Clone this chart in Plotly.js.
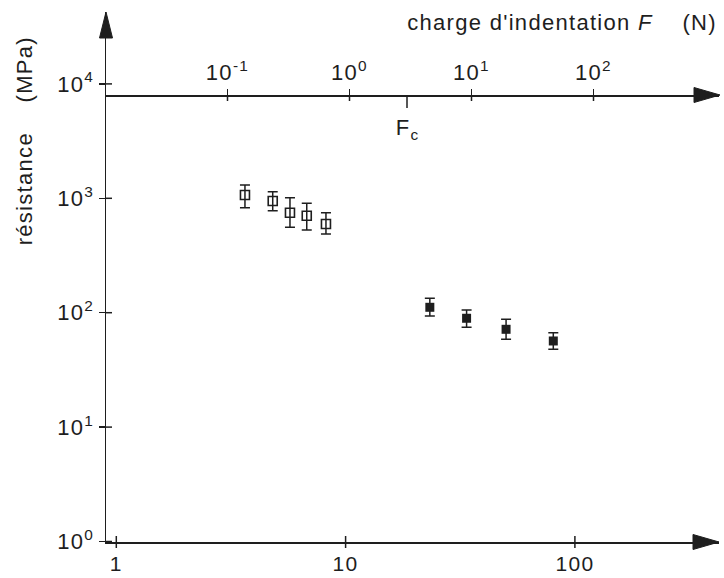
<!DOCTYPE html>
<html>
<head>
<meta charset="utf-8">
<script src="https://cdn.plot.ly/plotly-3.0.1.min.js"></script>
<style>
  html, body { margin: 0; padding: 0; background: #fff; }
  .main-svg text { letter-spacing: 1.3px; }
</style>
</head>
<body>
<div id="chart" style="width:724px;height:578px;"></div>
<script>
// ---- data ----
var openX      = [3.64, 4.81, 5.72, 6.77, 8.21];
var openY      = [1069, 947, 748, 704, 596];
var openHi     = [1307, 1142, 1012, 904, 748];
var openLo     = [828, 779, 558, 528, 488];

var filledX    = [23.3, 33.7, 50.1, 80.5];
var filledY    = [111.5, 89.4, 71.6, 56.6];
var filledHi   = [133.6, 105.6, 87.6, 66.9];
var filledLo   = [93.6, 74.5, 58.5, 47.9];

var bottomTicks = [1, 10, 100];
var bottomText  = ['1', '10', '100'];
var leftTicks   = [1, 10, 100, 1000, 10000];
var leftText    = ['10<sup>0</sup>', '10<sup>1</sup>', '10<sup>2</sup>', '10<sup>3</sup>', '10<sup>4</sup>'];
var topTicks    = [0.1, 1, 10, 100];
var topText     = ['10<sup>-1</sup>', '10<sup>0</sup>', '10<sup>1</sup>', '10<sup>2</sup>'];
var Fc = 2.96;

// ---- geometry ----
var W = 724, H = 578;
var M = {l: 106, r: 5, t: 12, b: 36};
var PW = W - M.l - M.r, PH = H - M.t - M.b;
function px(x) { return (x - M.l) / PW; }
function py(y) { return (H - M.b - y) / PH; }

var ink = '#1e1e1e';
var FONT = 'Liberation Sans, Arial, Helvetica, sans-serif';
var fs = 22;

function plus(v, hi) { return hi.map(function (h, i) { return h - v[i]; }); }
function minus(v, lo) { return lo.map(function (l, i) { return v[i] - l; }); }

var traces = [
  {
    x: openX, y: openY, type: 'scatter', mode: 'markers', xaxis: 'x', yaxis: 'y',
    marker: {symbol: 'square-open', size: 9, color: ink, line: {width: 1.6, color: ink}},
    error_y: {type: 'data', symmetric: false, array: plus(openY, openHi), arrayminus: minus(openY, openLo),
              thickness: 1.5, width: 5, color: ink},
    hoverinfo: 'skip', showlegend: false
  },
  {
    x: filledX, y: filledY, type: 'scatter', mode: 'markers', xaxis: 'x', yaxis: 'y',
    marker: {symbol: 'square', size: 9, color: ink},
    error_y: {type: 'data', symmetric: false, array: plus(filledY, filledHi), arrayminus: minus(filledY, filledLo),
              thickness: 1.5, width: 5, color: ink},
    hoverinfo: 'skip', showlegend: false
  },
  {
    x: [Fc], y: [1000], type: 'scatter', mode: 'markers', xaxis: 'x2', yaxis: 'y',
    marker: {size: 1, opacity: 0}, hoverinfo: 'skip', showlegend: false
  }
];

var shapes = [];
// bottom ticks (cross the axis line)
bottomTicks.forEach(function (v) {
  shapes.push({type: 'line', xref: 'x', x0: v, x1: v, yref: 'paper', ysizemode: 'pixel', yanchor: 0,
               y0: -6, y1: 6, line: {color: ink, width: 1.5}});
});
// inner halves of left ticks
leftTicks.forEach(function (v) {
  shapes.push({type: 'line', yref: 'y', y0: v, y1: v, xref: 'paper', xsizemode: 'pixel', xanchor: 0,
               x0: 0, x1: 6, line: {color: ink, width: 1.5}});
});
var topPos = py(95);
topTicks.forEach(function (v) {
  shapes.push({type: 'line', xref: 'x2', x0: v, x1: v, yref: 'paper', ysizemode: 'pixel', yanchor: topPos,
               y0: 0, y1: -6, line: {color: ink, width: 1.5}});
});
// Fc tick (below the top axis only)
shapes.push({type: 'line', xref: 'x2', x0: Fc, x1: Fc, yref: 'paper', ysizemode: 'pixel', yanchor: topPos,
             y0: 0, y1: -13, line: {color: ink, width: 1.5}});
// arrow heads
function tri(pts) {
  return 'M' + pts.map(function (p) { return px(p[0]) + ',' + py(p[1]); }).join(' L') + ' Z';
}
shapes.push({type: 'path', xref: 'paper', yref: 'paper', path: tri([[719, 542], [693, 534.5], [693, 549.5]]),
             fillcolor: ink, line: {color: ink, width: 1}});
shapes.push({type: 'path', xref: 'paper', yref: 'paper', path: tri([[720, 95], [694, 87.5], [694, 102.5]]),
             fillcolor: ink, line: {color: ink, width: 1}});
shapes.push({type: 'path', xref: 'paper', yref: 'paper', path: tri([[106, 12], [99.5, 38], [112.5, 38]]),
             fillcolor: ink, line: {color: ink, width: 1}});

var axisCommon = {
  type: 'log', showgrid: false, zeroline: false, showline: true, linecolor: ink, linewidth: 1.5,
  ticks: 'outside', ticklen: 6, tickwidth: 1.5, tickcolor: ink, tickmode: 'array',
  tickfont: {family: FONT, size: fs, color: ink}, fixedrange: true
};

var layout = {
  width: W, height: H, margin: M,
  paper_bgcolor: '#fff', plot_bgcolor: '#fff',
  font: {family: FONT, size: fs, color: ink},
  showlegend: false,
  xaxis: Object.assign({}, axisCommon, {
    range: [(106 - 116.3) / 229.3, (719 - 116.3) / 229.3],
    tickvals: bottomTicks, ticktext: bottomText,
    ticks: '', ticklabelstandoff: 2,
    tickfont: {family: FONT, size: 21, color: ink}
  }),
  yaxis: Object.assign({}, axisCommon, {
    range: [(541.5 - 542) / 114.4, (541.5 - 12) / 114.4],
    tickvals: leftTicks, ticktext: leftText
  }),
  xaxis2: Object.assign({}, axisCommon, {
    range: [(106 - 349.5) / 122, (719 - 349.5) / 122],
    overlaying: 'x', side: 'top', anchor: 'free', position: topPos,
    tickvals: topTicks, ticktext: topText
  }),
  shapes: shapes,
  annotations: [
    {xref: 'paper', yref: 'paper', x: px(561.5), y: py(22), xanchor: 'center', yanchor: 'middle',
     showarrow: false, text: "charge d'indentation <i>F</i>\u00a0\u00a0\u00a0\u00a0(N)",
     font: {family: FONT, size: fs, color: ink}},
    {xref: 'paper', yref: 'paper', x: px(25), y: py(141), xanchor: 'center', yanchor: 'middle',
     showarrow: false, textangle: -90, text: "résistance\u00a0\u00a0\u00a0\u00a0(MPa)",
     font: {family: FONT, size: fs, color: ink}},
    {xref: 'x2', yref: 'paper', x: Math.log10(Fc), y: py(129), xanchor: 'center', yanchor: 'middle',
     showarrow: false, text: 'F<sub>c</sub>', font: {family: FONT, size: fs, color: ink}}
  ]
};

Plotly.newPlot('chart', traces, layout, {displayModeBar: false, staticPlot: true});
</script>
</body>
</html>
